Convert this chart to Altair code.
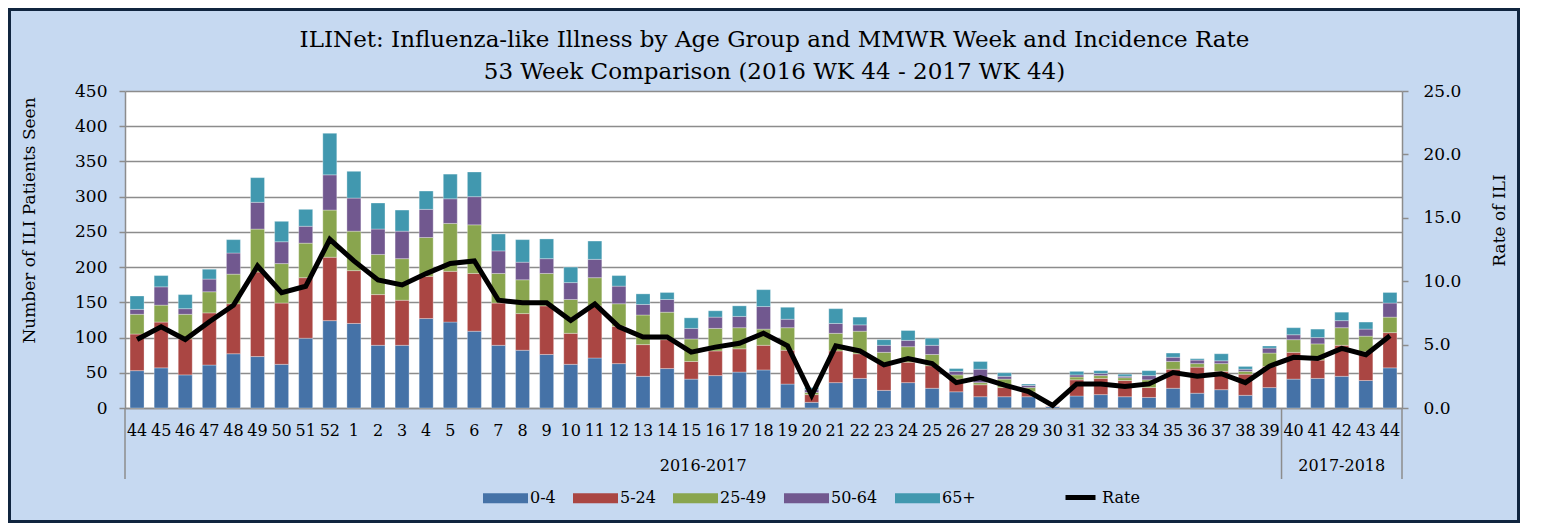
import altair as alt
import pandas as pd

# ---- data ----
weeks = ["44", "45", "46", "47", "48", "49", "50", "51", "52",
         "1", "2", "3", "4", "5", "6", "7", "8", "9", "10", "11", "12", "13",
         "14", "15", "16", "17", "18", "19", "20", "21", "22", "23", "24", "25",
         "26", "27", "28", "29", "30", "31", "32", "33", "34", "35", "36", "37",
         "38", "39",
         "40", "41", "42", "43", "44"]
seasons = ["2016-2017"] * 48 + ["2017-2018"] * 5

age_0_4 = [53, 57, 47, 61, 77, 73, 62, 99, 124,
           120, 89, 89, 127, 122, 109, 89, 82, 76, 62, 71, 63, 45,
           56, 41, 46, 51, 54, 34, 8, 36, 42, 25, 36, 28,
           23, 16, 16, 16, 2, 17, 19, 16, 15, 28, 21, 26,
           18, 29,
           41, 42, 45, 39, 57]
age_5_24 = [52, 65, 51, 74, 71, 120, 87, 86, 90,
            75, 72, 64, 60, 72, 82, 60, 52, 69, 44, 74, 53, 45,
            41, 25, 35, 33, 35, 48, 11, 45, 35, 38, 29, 32,
            18, 17, 13, 7, 1, 23, 23, 23, 14, 27, 37, 26,
            30, 30,
            38, 26, 44, 41, 50]
age_25_49 = [28, 24, 35, 30, 42, 61, 56, 49, 67,
             56, 57, 59, 55, 68, 69, 42, 48, 46, 48, 40, 32, 42,
             39, 32, 32, 30, 23, 32, 3, 25, 32, 16, 22, 16,
             6, 3, 12, 6, 0, 4, 4, 4, 11, 11, 5, 11,
             4, 19,
             18, 23, 25, 22, 22]
age_50_64 = [7, 26, 8, 18, 30, 38, 31, 24, 50,
             47, 36, 39, 40, 35, 40, 32, 25, 21, 24, 26, 25, 15,
             18, 15, 16, 16, 32, 12, 4, 14, 9, 10, 9, 13,
             5, 19, 4, 3, 0, 3, 3, 2, 6, 6, 5, 4,
             3, 7,
             7, 9, 10, 10, 20]
age_65 = [19, 16, 20, 14, 19, 35, 29, 24, 59,
          38, 37, 30, 26, 35, 35, 24, 32, 28, 22, 26, 15, 15,
          10, 15, 9, 15, 24, 17, 3, 21, 11, 8, 14, 10,
          4, 11, 5, 2, 0, 5, 4, 3, 7, 6, 2, 10,
          4, 3,
          10, 12, 12, 10, 15]
rate = [5.4, 6.4, 5.4, 6.8, 8.1, 11.2, 9.1, 9.6, 13.3,
        11.6, 10.1, 9.7, 10.6, 11.4, 11.6, 8.5, 8.3, 8.3, 6.9, 8.2, 6.4, 5.6,
        5.6, 4.4, 4.8, 5.1, 5.9, 4.9, 1.0, 4.9, 4.5, 3.4, 3.9, 3.5,
        2.0, 2.4, 1.8, 1.3, 0.2, 1.9, 1.9, 1.7, 1.9, 2.8, 2.5, 2.7,
        2.0, 3.3,
        4.0, 3.9, 4.7, 4.2, 5.7]

groups = ["0-4", "5-24", "25-49", "50-64", "65+"]
series = [age_0_4, age_5_24, age_25_49, age_50_64, age_65]
group_colors = ["#4572A7", "#AA4643", "#89A54E", "#71588F", "#4198AF"]
season_labels = ["2016-2017", "2017-2018"]

# ---- tables built from the lists ----
keys = [f"{s}|{w}" for s, w in zip(seasons, weeks)]
bar_rows = []
for gi, (g, vals) in enumerate(zip(groups, series)):
    for k, v in zip(keys, vals):
        bar_rows.append({"key": k, "group": g, "value": v, "order": gi})
bars_df = pd.DataFrame(bar_rows)
rate_df = pd.DataFrame({"key": keys, "rate": rate, "series": ["Rate"] * len(keys)})

W, H = 1277, 317
PI = 0.42
STEP = W / len(keys)
HALF_GAP = STEP * PI / 2
FONT = "DejaVu Serif"
GRID = "#8c8c8c"

x_scale = alt.Scale(domain=keys, paddingInner=PI, paddingOuter=PI / 2)
x_axis = alt.Axis(title=None, labelExpr="split(datum.value, '|')[1]", ticks=False,
                  labelAngle=0, labelPadding=14, labelFontSize=16, labelFont=FONT,
                  labelColor="black", labelOverlap=False, domainColor=GRID,
                  domainWidth=1.5, grid=False)


def xenc(band=None):
    if band is None:
        return alt.X("key:N", scale=x_scale, axis=x_axis)
    return alt.X("key:N", scale=x_scale, axis=x_axis, bandPosition=band)


legend_path = "M-1,-0.22H1V0.22H-1Z"

bars = alt.Chart(bars_df).mark_bar(stroke="white", strokeWidth=0.5, strokeOpacity=0.6).encode(
    x=xenc(),
    y=alt.Y("value:Q", stack="zero",
            scale=alt.Scale(domain=[0, 450], nice=False),
            axis=alt.Axis(values=list(range(0, 451, 50)), title="Number of ILI Patients Seen",
                          orient="left", tickSize=6, tickColor=GRID, tickWidth=1.5,
                          labelPadding=12, labelFontSize=17, labelFont=FONT, labelColor="black",
                          titleFont=FONT, titleFontSize=17, titleFontWeight="normal",
                          titleColor="black", titlePadding=36, titleY=129,
                          grid=True, gridColor=GRID, gridWidth=1.5,
                          domainColor=GRID, domainWidth=1.5)),
    color=alt.Color("group:N",
                    scale=alt.Scale(domain=groups, range=group_colors),
                    legend=alt.Legend(title=None, orient="none", direction="horizontal",
                                      legendX=358, legendY=384.5,
                                      symbolType=legend_path, symbolSize=2025,
                                      symbolStrokeWidth=0, labelFont=FONT, labelFontSize=16,
                                      labelColor="black", labelOffset=2, columnPadding=17)),
    order=alt.Order("order:Q"),
)

line = alt.Chart(rate_df).mark_line(strokeWidth=5, strokeJoin="miter").encode(
    x=xenc(),
    y=alt.Y("rate:Q", scale=alt.Scale(domain=[0, 25], nice=False),
            axis=alt.Axis(orient="right", values=[0, 5, 10, 15, 20, 25], format=".1f",
                          title="Rate of ILI", titleAngle=270, titleFont=FONT,
                          titleFontSize=17, titleFontWeight="normal", titleColor="black",
                          titlePadding=48, titleY=129, tickSize=6, tickColor=GRID,
                          tickWidth=1.5, labelPadding=15, labelFontSize=17, labelFont=FONT,
                          labelColor="black", grid=False, domainColor=GRID, domainWidth=1.5)),
    stroke=alt.Stroke("series:N", scale=alt.Scale(domain=["Rate"], range=["#000000"]),
                      legend=alt.Legend(title=None, orient="none", direction="horizontal",
                                        legendX=938, legendY=389, symbolType="stroke",
                                        symbolSize=900, symbolStrokeWidth=5,
                                        labelFont=FONT, labelFontSize=16, labelColor="black",
                                        labelOffset=4)),
)

# group separators of the two-level category axis
sep_left = alt.Chart(pd.DataFrame({"key": [keys[0], keys[48]]})).mark_rule(
    color=GRID, strokeWidth=1.5, xOffset=-HALF_GAP).encode(
    x=xenc(0), y=alt.value(H), y2=alt.value(H + 71))
sep_right = alt.Chart(pd.DataFrame({"key": [keys[-1]]})).mark_rule(
    color=GRID, strokeWidth=1.5, xOffset=HALF_GAP).encode(
    x=xenc(1), y=alt.value(H), y2=alt.value(H + 71))

lab1 = alt.Chart(pd.DataFrame({"key": [keys[24]], "label": [season_labels[0]]})).mark_text(
    font=FONT, fontSize=16, color="black", xOffset=-HALF_GAP).encode(
    x=xenc(0), y=alt.value(H + 58), text="label:N")
lab2 = alt.Chart(pd.DataFrame({"key": [keys[50]], "label": [season_labels[1]]})).mark_text(
    font=FONT, fontSize=16, color="black").encode(
    x=xenc(0.5), y=alt.value(H + 58), text="label:N")

frame = alt.Chart(pd.DataFrame({"a": [0]})).mark_rect(
    filled=False, stroke="#10253F", strokeWidth=3).encode(
    x=alt.value(-115.5), x2=alt.value(1393.5), y=alt.value(-81.5), y2=alt.value(430.5))

chart = alt.layer(bars, line, sep_left, sep_right, lab1, lab2, frame).resolve_scale(
    y="independent"
).properties(
    width=W, height=H,
    title=alt.Title(
        text=["ILINet: Influenza-like Illness by Age Group and MMWR Week and Incidence Rate",
              "53 Week Comparison (2016 WK 44 - 2017 WK 44)"],
        font=FONT, fontSize=23, fontWeight="normal", color="black",
        lineHeight=32, anchor="middle", offset=-76, dx=11),
    autosize=alt.AutoSizeParams(type="none"),
    padding={"left": 117, "top": 83, "right": 118, "bottom": 115},
    background="#C6D9F1",
).configure_view(fill="white", stroke=None)

chart.save("out.html", embed_options={"renderer": "svg", "actions": False})
